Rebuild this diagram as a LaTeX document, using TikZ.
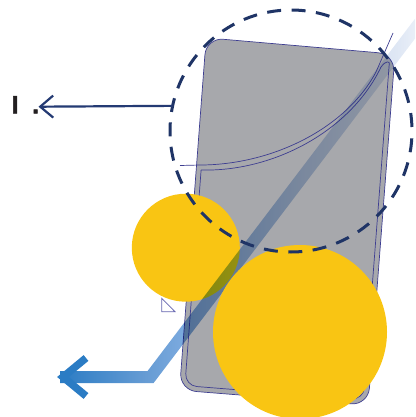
\documentclass[tikz,border=0pt]{standalone}
\usepackage{fontspec}
\newfontfamily\labfont{Liberation Sans}[FakeBold=2]
\usetikzlibrary{arrows.meta}
\definecolor{navy}{RGB}{31,52,102}
\definecolor{arrownavy}{RGB}{36,58,115}
\definecolor{phonegray}{RGB}{167,168,172}
\definecolor{phoneline}{RGB}{62,62,145}
\definecolor{yel}{RGB}{249,197,19}
\definecolor{bandL}{RGB}{43,124,196}
\definecolor{tricol}{RGB}{100,100,175}
\definecolor{labelcol}{RGB}{35,31,32}
\pgfdeclarehorizontalshading{bandshade}{100bp}{%
  rgb(0bp)=(0.169,0.486,0.769);
  rgb(25bp)=(0.169,0.486,0.769);
  rgb(36.6bp)=(0.40,0.61,0.83);
  rgb(44.1bp)=(0.52,0.69,0.89);
  rgb(57.8bp)=(0.73,0.81,0.92);
  rgb(71.4bp)=(0.88,0.91,0.96);
  rgb(75bp)=(0.94,0.96,0.98);
  rgb(100bp)=(0.94,0.96,0.98)}
\begin{document}
\begin{tikzpicture}[x=1pt,y=-1pt,
  phonebody/.style={fill=phonegray, draw=phoneline, line width=0.7pt},
  thinline/.style={draw=phoneline, line width=0.7pt},
  yellowdisc/.style={circle, fill=yel, inner sep=0pt, outer sep=0pt},
  zoomring/.style={circle, draw=navy, line width=3pt, dash pattern=on 14pt off 10.5pt, dash phase=20.5pt, inner sep=0pt, outer sep=0pt, minimum size=242pt},
  callout/.style={draw=arrownavy, line width=2.2pt, -{Straight Barb[length=13pt,width=22pt]}},
  chevron/.style={draw=bandL, line width=7.5pt, line join=miter},
  marker/.style={draw=tricol, line width=0.8pt, line join=miter}]
\useasboundingbox (0,0) rectangle (415,417);
\begin{scope}
\clip (0,0) rectangle (415,417);
% phone body
\draw[phonebody, rounded corners=17] (300.6,46) -- (395,54.2) -- (368.1,405.2) -- (179.5,390.2) -- (206.2,37.8) -- cycle;
% inner outline (peeled screen)
\draw[thinline] (201.1,170) [rounded corners=12] -- (184.9,385.6) -- (363.5,399.8) -- (388.4,75) [sharp corners]
  .. controls (389.4,62) and (386,60) .. (381,67)
  .. controls (350,132) and (272,172) .. (201.1,170);
% outer arc line
\draw[thinline] (180,165.5) -- (200,165) .. controls (270,165) and (345,130) .. (376,72) -- (393,33);
% small triangle
\draw[marker] (161.7,298.3) -- (175,311.7) -- (161.7,311.7) -- cycle;
% small yellow disc
\node[yellowdisc, minimum size=108pt] (small) at (185.8,247.7) {};
% blue band (multiplied over what lies below)
\begin{scope}[blend mode=multiply]
\shade[shading=bandshade]
  (60,371) -- (147.6,371) -- (416.8,16.4) -- (426.4,23.6) -- (153.6,383) -- (60,383) -- cycle;
\end{scope}
\coordinate (chevA) at (86,358);
\coordinate (chevT) at (63,377);
\coordinate (chevB) at (86,396);
\draw[chevron] (chevA) -- (chevT) -- (chevB);
% big yellow disc
\node[yellowdisc, minimum size=174pt] (big) at (300,332) {};
% dashed zoom ring
\node[zoomring] (zoom) at (291,131) {};
\end{scope}
% label and callout arrow
\node[anchor=base west, inner sep=0pt, text=labelcol, font=\labfont\bfseries\fontsize{25}{30}\selectfont] (lab) at (11.5,113.3) {I\hspace{13.5pt}.};
\coordinate (tip) at (38.5,106.7);
\draw[callout] (zoom.168.4) -- (tip);
\end{tikzpicture}
\end{document}
